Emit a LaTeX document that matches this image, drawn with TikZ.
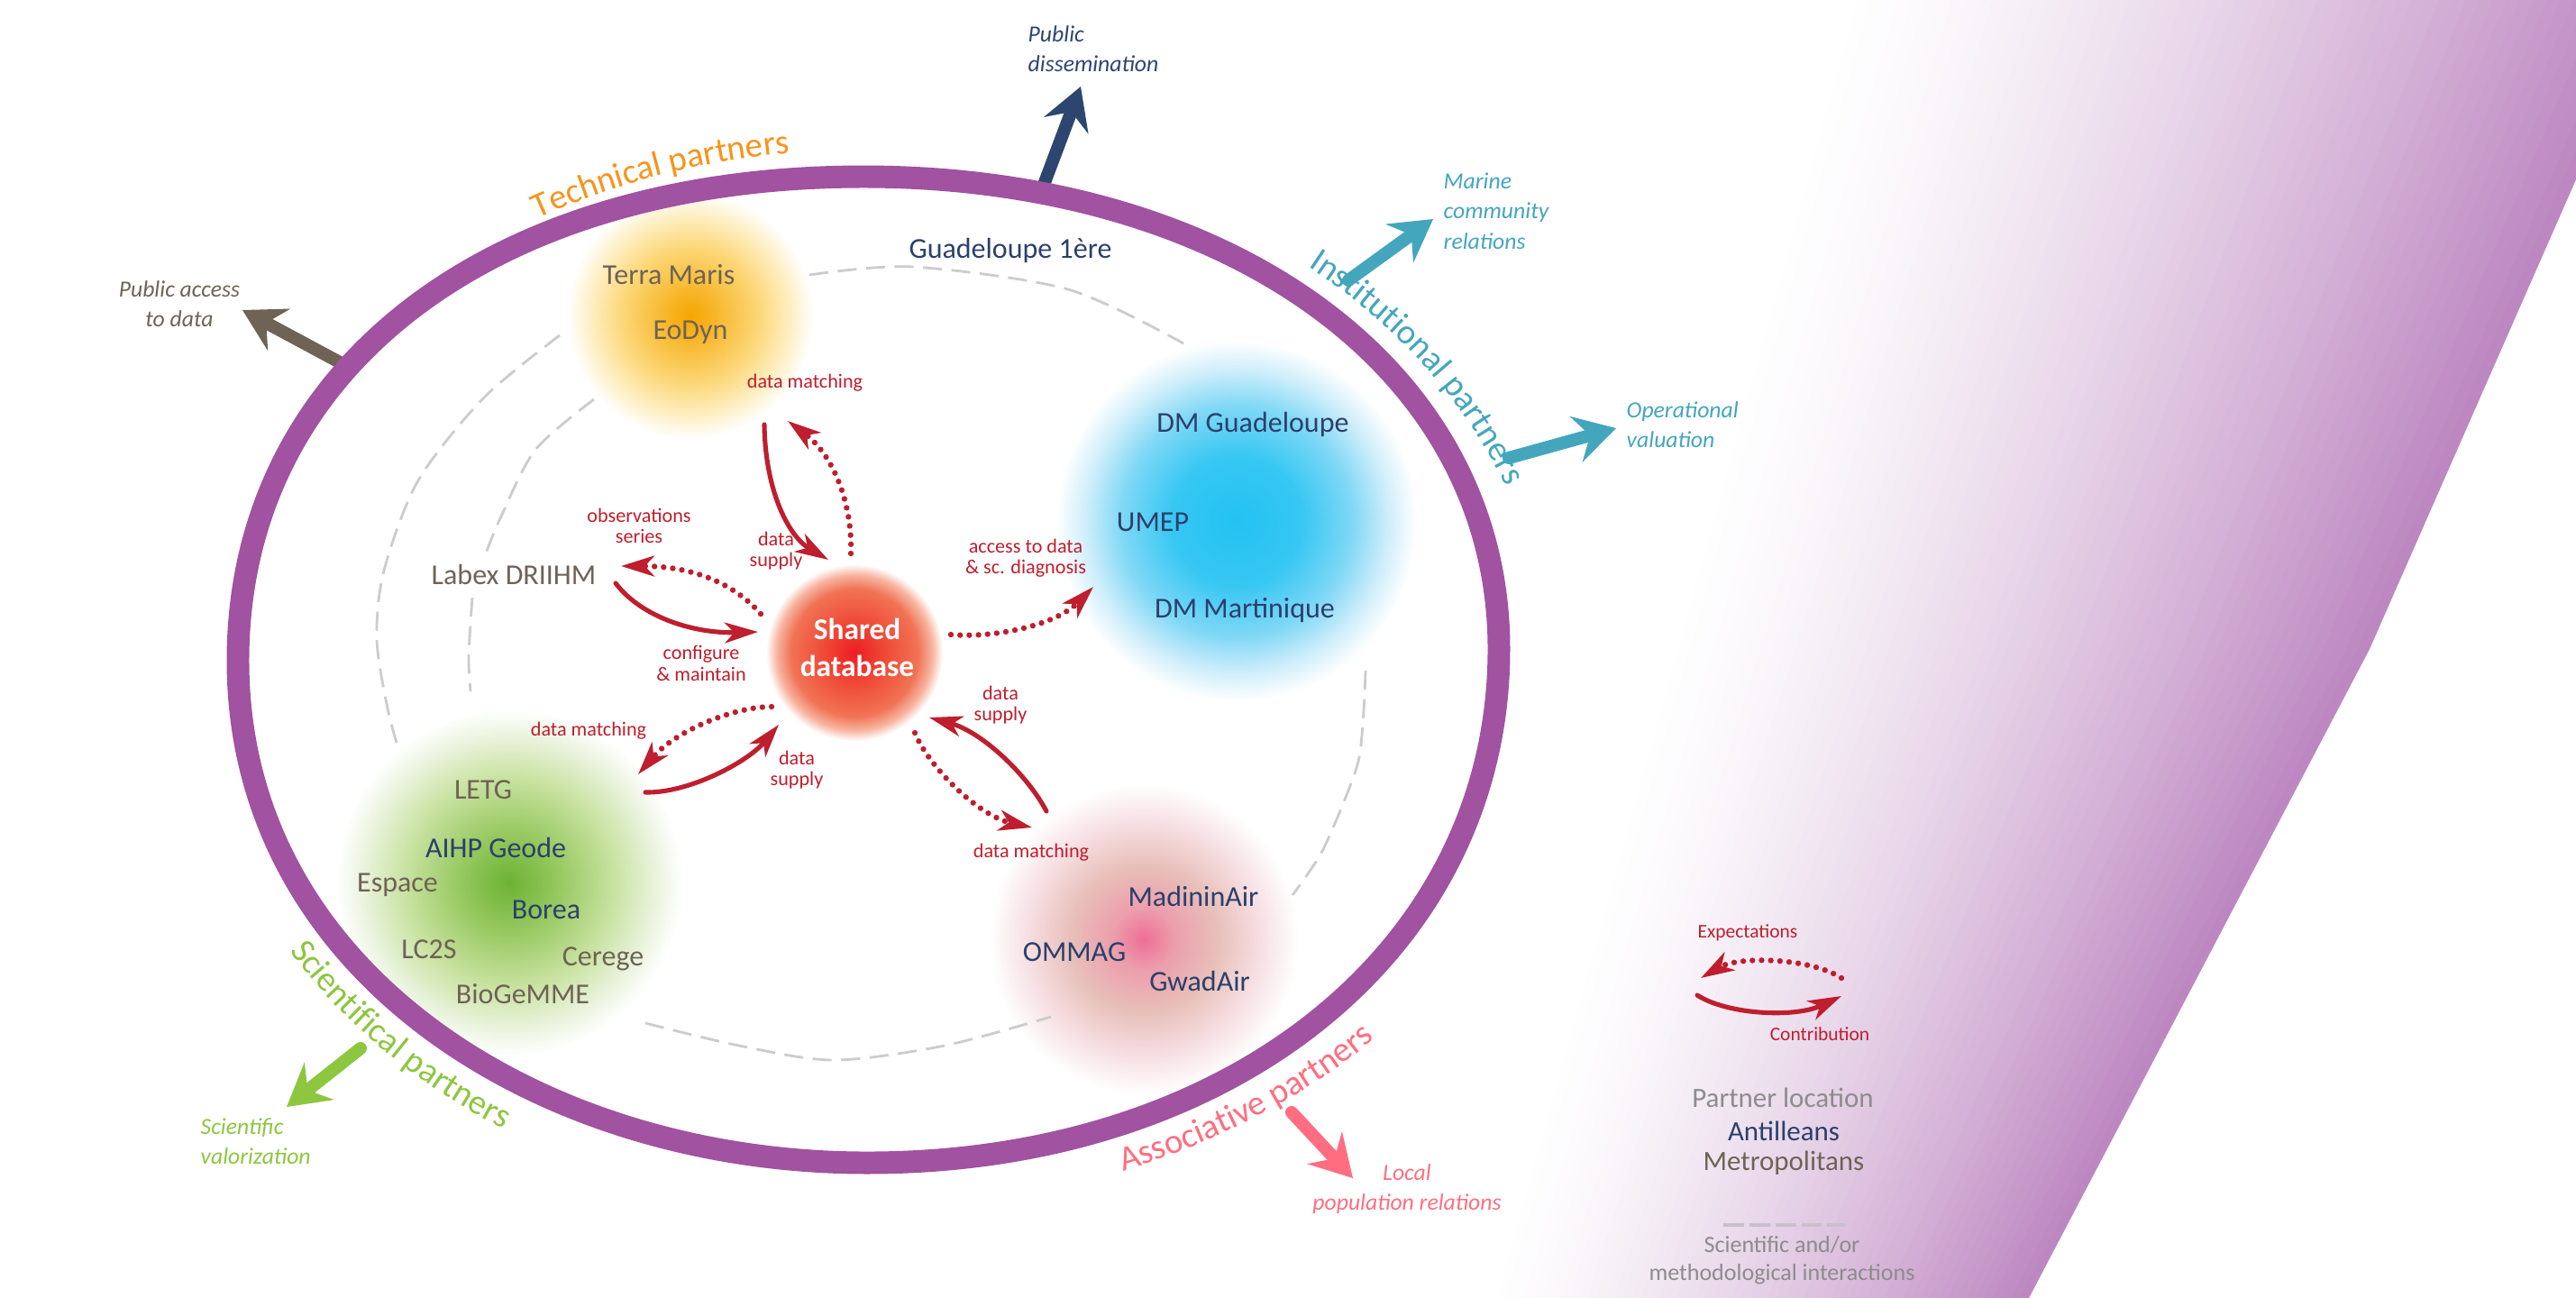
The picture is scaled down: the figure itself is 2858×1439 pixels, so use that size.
\documentclass[tikz,border=0pt]{standalone}
\usepackage{fontspec}
\setmainfont{Carlito}
\usetikzlibrary{arrows.meta,decorations.text}
\definecolor{ellpurple}{RGB}{161,82,160}
\definecolor{bandpurple}{RGB}{188,134,192}
\definecolor{navy}{RGB}{43,64,107}
\definecolor{brownish}{RGB}{110,99,85}
\definecolor{legendgray}{RGB}{140,140,140}
\definecolor{arrowred}{RGB}{190,30,45}
\definecolor{techorange}{RGB}{247,148,29}
\definecolor{instteal}{RGB}{68,166,189}
\definecolor{scigreen}{RGB}{141,198,63}
\definecolor{assopink}{RGB}{255,110,128}
\definecolor{dashgray}{RGB}{204,204,204}
\definecolor{legdash}{RGB}{200,192,204}
\definecolor{navyarrow}{RGB}{44,70,112}
\definecolor{or1}{RGB}{245,165,0}\definecolor{or2}{RGB}{248,186,50}\definecolor{or3}{RGB}{252,216,122}\definecolor{or4}{RGB}{254,238,192}
\definecolor{bl1}{RGB}{35,194,242}\definecolor{bl2}{RGB}{55,199,243}\definecolor{bl3}{RGB}{128,216,246}\definecolor{bl4}{RGB}{207,238,251}
\definecolor{gr1}{RGB}{108,178,52}\definecolor{gr2}{RGB}{150,200,95}\definecolor{gr3}{RGB}{200,226,160}\definecolor{gr4}{RGB}{233,243,220}
\definecolor{pk1}{RGB}{238,110,150}\definecolor{pk2}{RGB}{236,158,172}\definecolor{pk3}{RGB}{232,192,186}\definecolor{pk4}{RGB}{247,224,228}
\definecolor{sd1}{RGB}{237,28,36}\definecolor{sd2}{RGB}{239,75,55}\definecolor{sd3}{RGB}{241,115,85}\definecolor{sd4}{RGB}{247,180,160}
\pgfdeclareradialshading{orangeblob}{\pgfpointorigin}{color(0bp)=(or1); color(6bp)=(or2); color(14bp)=(or3); color(20bp)=(or4); color(25bp)=(white); color(50bp)=(white)}
\pgfdeclareradialshading{blueblob}{\pgfpointorigin}{color(0bp)=(bl1); color(9bp)=(bl2); color(16bp)=(bl3); color(21bp)=(bl4); color(25bp)=(white); color(50bp)=(white)}
\pgfdeclareradialshading{greenblob}{\pgfpointorigin}{color(0bp)=(gr1); color(7bp)=(gr2); color(15bp)=(gr3); color(21bp)=(gr4); color(25bp)=(white); color(50bp)=(white)}
\pgfdeclareradialshading{pinkblob}{\pgfpointorigin}{color(0bp)=(pk1); color(5bp)=(pk2); color(12bp)=(pk3); color(19bp)=(pk4); color(25bp)=(white); color(50bp)=(white)}
\pgfdeclareradialshading{sharedblob}{\pgfpointorigin}{color(0bp)=(sd1); color(9bp)=(sd2); color(18bp)=(sd3); color(22bp)=(sd4); color(25bp)=(white); color(50bp)=(white)}
\newcommand{\arcfont}{\fontsize{11pt}{13pt}\selectfont}
\begin{document}
\begin{tikzpicture}[x=0.01cm,y=-0.01cm,
  partner/.style={font=\fontsize{9.1pt}{11pt}\selectfont, inner sep=0pt},
  anti/.style={partner, text=navy},
  metro/.style={partner, text=brownish},
  redlabel/.style={font=\fontsize{6.3pt}{6.6pt}\selectfont, text=arrowred, align=center, inner sep=0pt},
  outlabel/.style={font=\fontsize{7.3pt}{9.5pt}\selectfont\itshape, inner sep=0pt},
  legendtext/.style={font=\fontsize{8.8pt}{10pt}\selectfont, inner sep=0pt},
  supplyarrow/.style={arrowred, line width=1.45pt, line cap=round, -{Stealth[length=10.5pt,width=6.5pt,inset=3pt]}},
  expectarrow/.style={arrowred, line width=1.8pt, line cap=round, dash pattern=on 0pt off 2.9pt, -{Stealth[length=10.5pt,width=6.5pt,inset=3pt]}},
  bigarrow/.style={line width=4pt, line cap=round, -{Stealth[length=13pt,width=14.8pt,inset=4.5pt]}},
  interaction/.style={dashgray, line width=0.8pt, dash pattern=on 6pt off 3pt},
]
\useasboundingbox (0,0) rectangle (2858,1439);
\fill[white] (0,0) rectangle (2858,1439);

% purple band
\begin{scope}
\clip (0,0) rectangle (2858,1439);
\foreach \i in {0,...,59} {
  \pgfmathsetmacro\ta{\i/60}
  \pgfmathsetmacro\tb{(\i+1.3)/60}
  \pgfmathsetmacro\p{100*(1-(\i+0.5)/60)^1.35}
  \fill[bandpurple!\p!white] ({2251-600*\ta},1440) -- ({2629-780*\ta},720) -- ({2946-900*\ta},-1) -- ({2946-900*\tb},-1) -- ({2629-780*\tb},720) -- ({2251-600*\tb},1440) -- cycle;
}
\end{scope}

% blobs
\shade[shading=orangeblob] (766,350) circle (1.37cm);
\shade[shading=blueblob] (1372,578) circle (2.0cm);
\shade[shading=greenblob] (565,979) circle (1.92cm);
\shade[shading=pinkblob] (1269,1042) circle (1.72cm);
\shade[shading=sharedblob] (948,724) circle (0.98cm);

% dashed interaction arcs
\draw[interaction] plot[smooth] coordinates {(898,305) (1012,296) (1185,321) (1313,381)};
\draw[interaction] plot[smooth] coordinates {(621,372) (537,441) (464,533) (426,633) (418,709) (430,786) (443,834)};
\draw[interaction] plot[smooth] coordinates {(659,443) (594,499) (555,575) (539,614)};
\draw[interaction] plot[smooth] coordinates {(524,663) (520,728) (522,767)};
\draw[interaction] plot[smooth] coordinates {(716,1135) (820,1160) (925,1176) (1048,1160) (1166,1128)};
\draw[interaction] plot[smooth] coordinates {(1515,744) (1513,788) (1508,840) (1494,882) (1466,946) (1434,993)};

% outer arrows
\coordinate (pd0) at (1155,213); \coordinate (pd1) at (1199,96);
\coordinate (pa0) at (390,409); \coordinate (pa1) at (269,344);
\coordinate (mc0) at (1496,311); \coordinate (mc1) at (1590,243);
\coordinate (ov0) at (1674,508); \coordinate (ov1) at (1793,475);
\coordinate (sv0) at (400,1163); \coordinate (sv1) at (318,1228);
\coordinate (lp0) at (1433,1234); \coordinate (lp1) at (1501,1307);
\draw[bigarrow, navyarrow] (pd0) -- (pd1);
\draw[bigarrow, brownish] (pa0) -- (pa1);
\draw[bigarrow, instteal] (mc0) -- (mc1);
\draw[bigarrow, instteal] (ov0) -- (ov1);
\draw[bigarrow, scigreen] (sv0) -- (sv1);
\draw[bigarrow, assopink] (lp0) -- (lp1);

% main ellipse
\draw[ellpurple, line width=7.1pt] (958,196) .. controls (1360,196) and (1663,406) .. (1663,720)
  .. controls (1663,1051) and (1369,1290) .. (962,1290)
  .. controls (599,1290) and (264,1078) .. (264,733)
  .. controls (264,411) and (542,196) .. (958,196) -- cycle;

% curved category labels
\begin{scope}[shift={(961,743)}, x=1cm, y=1cm]
\path[decorate, decoration={text along path, text align=center, text color=techorange, text={|\arcfont|Technical partners}}]
  (139:7.31 and 5.77) arc[start angle=139, end angle=79, x radius=7.31, y radius=5.77];
\path[decorate, decoration={text along path, text align=center, text color=instteal, text={|\arcfont|Institutional partners}}]
  (63.6:7.56 and 5.87) arc[start angle=63.6, end angle=3.6, x radius=7.56, y radius=5.87];
\path[decorate, decoration={text along path, text align=center, text color=scigreen, text={|\arcfont|Scientifical partners}}]
  (193:7.46 and 6.05) arc[start angle=193, end angle=253, x radius=7.46, y radius=6.05];
\path[decorate, decoration={text along path, text align=center, text color=assopink, text={|\arcfont|Associative partners}}]
  (-84.5:7.74 and 5.98) arc[start angle=-84.5, end angle=-24.5, x radius=7.74, y radius=5.98];
\end{scope}

% outer labels
\node[outlabel, text=navyarrow, align=left, anchor=west] (pubdiss) at (1140,54) {Public\\dissemination};
\node[outlabel, text=brownish, align=center] (pubacc) at (199,337) {Public access\\to data};
\node[outlabel, text=instteal, align=left, anchor=west] (marine) at (1601,234) {Marine\\community\\relations};
\node[outlabel, text=instteal, align=left, anchor=west] (oper) at (1804,471) {Operational\\valuation};
\node[outlabel, text=scigreen, align=left, anchor=west] (scival) at (222,1266) {Scientific\\valorization};
\node[outlabel, text=assopink, align=center] (localpop) at (1561,1319) {Local\\population relations};

% partners
\node[anti] (guad1) at (1121,278) {Guadeloupe 1ère};
\node[metro] (terra) at (742,305) {Terra Maris};
\node[metro] (eodyn) at (766,369) {EoDyn};
\node[metro] (labex) at (570,637) {Labex DRIIHM};
\node[anti] (dmg) at (1390,471) {DM Guadeloupe};
\node[anti] (umep) at (1279,579) {UMEP};
\node[anti] (dmm) at (1381,677) {DM Martinique};
\node[metro] (letg) at (536,876) {LETG};
\node[anti] (aihp) at (550,940) {AIHP Geode};
\node[metro] (espace) at (441,982) {Espace};
\node[anti] (borea) at (606,1009) {Borea};
\node[metro] (lc2s) at (476,1053) {LC2S};
\node[metro] (cerege) at (669,1064) {Cerege};
\node[metro] (biogemme) at (580,1103) {BioGeMME};
\node[anti] (madinin) at (1324,994) {MadininAir};
\node[anti] (ommag) at (1192,1056) {OMMAG};
\node[anti] (gwadair) at (1331,1088) {GwadAir};
\node[font=\fontsize{9.5pt}{11.7pt}\selectfont\bfseries, text=white, align=center, inner sep=0pt] (shared) at (951,718) {Shared\\database};

% red labels
\node[redlabel] (lab1) at (893,425) {data matching};
\node[redlabel] (lab2) at (709,583) {observations\\series};
\node[redlabel] (lab3) at (861,611) {data\\supply};
\node[redlabel] (lab4) at (778,736) {configure\\\& maintain};
\node[redlabel] (lab5) at (1138,619) {access to data\\\& sc. diagnosis};
\node[redlabel] (lab6) at (1110,782) {data\\supply};
\node[redlabel] (lab7) at (653,811) {data matching};
\node[redlabel] (lab8) at (884,854) {data\\supply};
\node[redlabel] (lab9) at (1144,946) {data matching};

% red arrows
\coordinate (a1s) at (848,471); \coordinate (a1e) at (919,621);
\coordinate (a2s) at (944,614); \coordinate (a2e) at (874,467);
\draw[supplyarrow] (a1s) .. controls (849,545) and (875,595) .. (a1e);
\draw[expectarrow] (a2s) .. controls (946,560) and (925,505) .. (a2e);
\coordinate (b1s) at (844,681); \coordinate (b1e) at (689,628);
\coordinate (b2s) at (683,647); \coordinate (b2e) at (841,701);
\draw[expectarrow] (b1s) .. controls (815,648) and (770,628) .. (b1e);
\draw[supplyarrow] (b2s) .. controls (712,685) and (770,703) .. (b2e);
\coordinate (c1s) at (1055,704); \coordinate (c1e) at (1213,651);
\draw[expectarrow] (c1s) .. controls (1100,708) and (1170,695) .. (c1e);
\coordinate (d1s) at (856,784); \coordinate (d1e) at (708,859);
\coordinate (d2s) at (716,879); \coordinate (d2e) at (864,804);
\draw[expectarrow] (d1s) .. controls (815,784) and (750,810) .. (d1e);
\draw[supplyarrow] (d2s) .. controls (765,880) and (830,845) .. (d2e);
\coordinate (e1s) at (1015,813); \coordinate (e1e) at (1145,918);
\coordinate (e2s) at (1161,900); \coordinate (e2e) at (1031,796);
\draw[expectarrow] (e1s) .. controls (1030,850) and (1085,905) .. (e1e);
\draw[supplyarrow] (e2s) .. controls (1140,860) and (1090,812) .. (e2e);

% legend
\node[font=\fontsize{6.1pt}{7pt}\selectfont, text=arrowred, inner sep=0pt] (expect) at (1939,1035) {Expectations};
\node[font=\fontsize{6.1pt}{7pt}\selectfont, text=arrowred, inner sep=0pt] (contrib) at (2019,1147) {Contribution};
\coordinate (x1s) at (2043,1085); \coordinate (x1e) at (1887,1085);
\coordinate (x2s) at (1883,1104); \coordinate (x2e) at (2043,1105);
\draw[expectarrow] (x1s) .. controls (2010,1063) and (1930,1060) .. (x1e);
\draw[supplyarrow] (x2s) .. controls (1915,1125) and (1990,1130) .. (x2e);
\node[legendtext, text=legendgray] (ploc) at (1978,1218) {Partner location};
\node[legendtext, text=navy] (antil) at (1979,1255) {Antilleans};
\node[legendtext, text=brownish] (metrop) at (1979,1290) {Metropolitans};
\coordinate (ld0) at (1912,1359); \coordinate (ld1) at (2047,1359);
\draw[legdash, line width=1.1pt, dash pattern=on 6.5pt off 1.7pt] (ld0) -- (ld1);
\node[font=\fontsize{7.4pt}{8.8pt}\selectfont, text=legendgray, align=center, inner sep=0pt] (sciint) at (1977,1398) {Scientific and/or\\methodological interactions};
\end{tikzpicture}
\end{document}
